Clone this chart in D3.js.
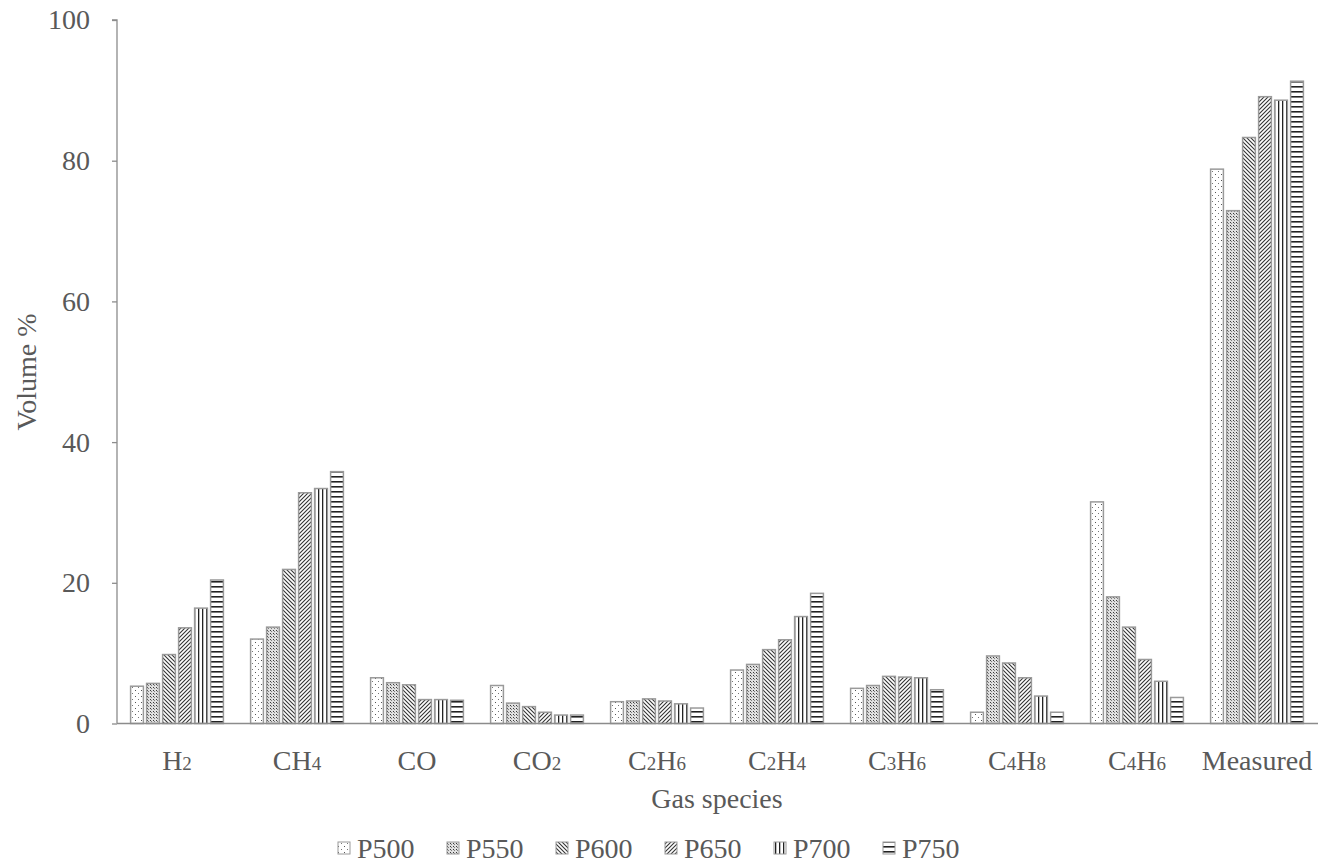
<!DOCTYPE html>
<html>
<head>
<meta charset="utf-8">
<script src="https://cdn.jsdelivr.net/npm/d3@7"></script>
<style>
  html, body { margin: 0; padding: 0; background: #fff; }
  svg { display: block; }
  text { font-family: "Liberation Serif", "Times New Roman", serif; fill: #595959; }
</style>
</head>
<body>
<svg id="chart" width="1318" height="864"></svg>
<script>
// Gas species (base symbol + subscript parts) and the pyrolysis temperatures
const categories = [
  [["H", ""], ["2", "sub"]],
  [["CH", ""], ["4", "sub"]],
  [["CO", ""]],
  [["CO", ""], ["2", "sub"]],
  [["C", ""], ["2", "sub"], ["H", ""], ["6", "sub"]],
  [["C", ""], ["2", "sub"], ["H", ""], ["4", "sub"]],
  [["C", ""], ["3", "sub"], ["H", ""], ["6", "sub"]],
  [["C", ""], ["4", "sub"], ["H", ""], ["8", "sub"]],
  [["C", ""], ["4", "sub"], ["H", ""], ["6", "sub"]],
  [["Measured", ""]]
];
const series = ["P500", "P550", "P600", "P650", "P700", "P750"];

// Volume % per gas, one array per series (same order as categories)
const P500 = [5.3, 12.0, 6.5, 5.4, 3.1, 7.6, 5.0, 1.6, 31.5, 78.8];
const P550 = [5.7, 13.7, 5.8, 2.9, 3.2, 8.4, 5.4, 9.6, 18.0, 72.9];
const P600 = [9.8, 21.9, 5.5, 2.4, 3.5, 10.5, 6.7, 8.6, 13.7, 83.3];
const P650 = [13.6, 32.8, 3.4, 1.6, 3.2, 11.9, 6.6, 6.5, 9.1, 89.1];
const P700 = [16.4, 33.4, 3.4, 1.2, 2.8, 15.2, 6.5, 3.9, 6.0, 88.6];
const P750 = [20.4, 35.8, 3.3, 1.2, 2.2, 18.5, 4.8, 1.6, 3.7, 91.3];
const values = [P500, P550, P600, P650, P700, P750];

const yTicks = [0, 20, 40, 60, 80, 100];

const svg = d3.select("#chart");
const plot = { left: 117, right: 1317, top: 20, bottom: 723.5 };
const catIds = d3.range(categories.length);

const x0 = d3.scaleBand().domain(catIds).range([plot.left, plot.right]).paddingInner(0).paddingOuter(0);
const x1 = d3.scaleBand().domain(series).range([0, 96]).paddingInner(0.2).paddingOuter(0.1);
const groupOffset = (x0.bandwidth() - 96) / 2;
const y = d3.scaleLinear().domain([0, 100]).range([plot.bottom, plot.top]);

// ---- fill patterns for each series ----
const defs = svg.append("defs");
const ink = "#333";

function pat(id, w, h) {
  return defs.append("pattern").attr("id", id).attr("patternUnits", "userSpaceOnUse")
    .attr("width", w).attr("height", h);
}
// P500: sparse staggered dots
{
  const p = pat("pat-P500", 6, 6);
  p.append("rect").attr("width", 6).attr("height", 6).attr("fill", "#fff");
  p.append("rect").attr("x", 0).attr("y", 0).attr("width", 1).attr("height", 1).attr("fill", "#555");
  p.append("rect").attr("x", 3).attr("y", 3).attr("width", 1).attr("height", 1).attr("fill", "#777");
}
// P550: fine dense dots
{
  const p = pat("pat-P550", 3, 3);
  p.append("rect").attr("width", 3).attr("height", 3).attr("fill", "#e0e0e0");
  p.append("rect").attr("x", 0).attr("y", 0).attr("width", 1).attr("height", 1).attr("fill", "#3a3a3a");
  p.append("rect").attr("x", 1).attr("y", 1).attr("width", 1).attr("height", 1).attr("fill", "#808080");
}
// P600: dense backslash diagonals
{
  const p = pat("pat-P600", 4, 4);
  p.append("rect").attr("width", 4).attr("height", 4).attr("fill", "#fff");
  p.append("path").attr("d", "M-1,-1 L5,5 M3,-1 L5,1 M-1,3 L1,5").attr("stroke", ink).attr("stroke-width", 1.1);
}
// P650: forward-slash diagonals
{
  const p = pat("pat-P650", 4, 4);
  p.append("rect").attr("width", 4).attr("height", 4).attr("fill", "#fff");
  p.append("path").attr("d", "M-1,5 L5,-1 M-1,1 L1,-1 M3,5 L5,3").attr("stroke", ink).attr("stroke-width", 1.1);
}
// P700: vertical lines
{
  const p = pat("pat-P700", 4, 4);
  p.append("rect").attr("width", 4).attr("height", 4).attr("fill", "#fff");
  p.append("rect").attr("x", 1).attr("y", 0).attr("width", 1.3).attr("height", 4).attr("fill", "#222");
}
// P750: horizontal lines
{
  const p = pat("pat-P750", 5, 5);
  p.append("rect").attr("width", 5).attr("height", 5).attr("fill", "#fff");
  p.append("rect").attr("x", 0).attr("y", 1).attr("width", 5).attr("height", 1.6).attr("fill", "#222");
}

// ---- bars ----
const groups = svg.append("g").selectAll("g")
  .data(catIds).join("g")
  .attr("transform", i => `translate(${x0(i) + groupOffset},0)`);

groups.selectAll("rect")
  .data(i => series.map((s, k) => ({ s, v: values[k][i] })))
  .join("rect")
  .attr("x", d => x1(d.s))
  .attr("y", d => y(d.v))
  .attr("width", x1.bandwidth())
  .attr("height", d => y(0) - y(d.v))
  .attr("fill", d => `url(#pat-${d.s})`)
  .attr("stroke", "#9a9a9a")
  .attr("stroke-width", 1.5);

// ---- axes ----
const axisColor = "#8c8c8c";
const yAxis = svg.append("g").attr("transform", `translate(${plot.left},0)`)
  .call(d3.axisLeft(y).tickValues(yTicks).tickSize(5).tickPadding(22).tickFormat(d3.format("d")));
yAxis.select(".domain").attr("stroke", axisColor).attr("stroke-width", 1.3)
  .attr("d", `M-5,${plot.top}H0V${plot.bottom}`);
yAxis.selectAll(".tick line").attr("stroke", axisColor).attr("stroke-width", 1.3);
yAxis.selectAll(".tick text").style("font-family", "'Liberation Serif', serif")
  .style("font-size", "28px").attr("fill", "#595959");

svg.append("line")
  .attr("x1", plot.left).attr("x2", plot.right + 1)
  .attr("y1", y(0)).attr("y2", y(0))
  .attr("stroke", axisColor).attr("stroke-width", 1.5);

// category labels with subscripts
const catLabels = svg.append("g").selectAll("text")
  .data(catIds).join("text")
  .attr("x", i => x0(i) + x0.bandwidth() / 2)
  .attr("y", 770)
  .attr("text-anchor", "middle")
  .style("font-size", "28px");
catLabels.each(function (i) {
  const t = d3.select(this);
  categories[i].forEach(([txt, kind]) => {
    t.append("tspan").text(txt)
      .style("font-size", kind === "sub" ? "19px" : null);
  });
});

// axis titles
svg.append("text").attr("x", 717).attr("y", 808).attr("text-anchor", "middle")
  .style("font-size", "28px").text("Gas species");
svg.append("text").attr("transform", "translate(36,372) rotate(-90)").attr("text-anchor", "middle")
  .style("font-size", "28px").text("Volume %");

// ---- legend ----
const legendItemW = 109;
const legend = svg.append("g").attr("transform", "translate(338,0)");
const li = legend.selectAll("g").data(series).join("g")
  .attr("transform", (d, k) => `translate(${k * legendItemW},0)`);
li.append("rect").attr("x", 0).attr("y", 842).attr("width", 12).attr("height", 12)
  .attr("fill", d => `url(#pat-${d})`).attr("stroke", "#9a9a9a").attr("stroke-width", 1);
li.append("text").attr("x", 19).attr("y", 858).style("font-size", "28px").text(d => d);
</script>
</body>
</html>
